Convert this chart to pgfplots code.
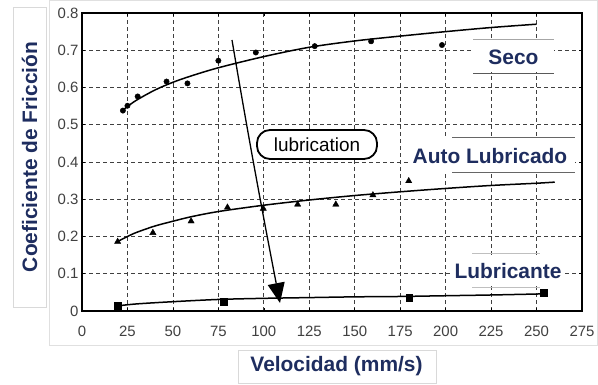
\documentclass[border=0pt]{standalone}
\usepackage{pgfplots}
\pgfplotsset{compat=1.18}
\usepackage{fontspec}
\setmainfont{Liberation Sans}
\usetikzlibrary{arrows.meta}
\definecolor{navy}{RGB}{30,45,95}
\begin{document}
\begin{tikzpicture}
\useasboundingbox (0bp,0bp) rectangle (598bp,385bp);
\begin{axis}[at={(82bp,74bp)}, anchor=south west, scale only axis,
  width=500bp, height=298bp,
  xmin=0, xmax=275, ymin=0, ymax=0.8,
  xtick={0,25,50,75,100,125,150,175,200,225,250,275},
  ytick={0,0.1,0.2,0.3,0.4,0.5,0.6,0.7,0.8},
  /pgf/number format/assume math mode=true,
  /pgf/number format/fixed, /pgf/number format/precision=1,
  tick label style={font=\fontsize{15}{15}\selectfont, text=black!75},
  xticklabel style={yshift=-12bp},
  grid=major,
  major grid style={black!75, dash pattern=on 4bp off 3bp, line width=0.7bp},
  tick style={black, line width=0.6bp}, major tick length=3bp,
  axis line style={line width=1.3bp},
  clip=false]
% Seco
\addplot[black, line width=1.5bp, smooth] coordinates {
(22,0.537) (25,0.549) (30,0.566) (40,0.593) (50,0.614) (60,0.631) (75,0.653)
(100,0.683) (125,0.708) (150,0.725) (175,0.738) (200,0.750) (225,0.761) (250,0.770)};
\addplot[only marks, mark=*, mark size=2.7bp, black] coordinates {
(22.5,0.538) (25,0.551) (30.6,0.576) (46.5,0.616) (58,0.611) (75,0.672)
(95.6,0.694) (128,0.711) (159,0.724) (198,0.714)};
% Auto lubricado
\addplot[black, line width=1.5bp, smooth] coordinates {
(19,0.185) (25,0.200) (30,0.211) (40,0.228) (50,0.241) (60,0.253) (75,0.267)
(100,0.284) (125,0.298) (150,0.310) (175,0.320) (200,0.329) (225,0.337) (250,0.343) (260,0.346)};
\addplot[only marks, mark=triangle*, mark size=3.6bp, black] coordinates {
(19.6,0.186) (39,0.21) (60,0.241) (80,0.278) (99.7,0.275) (118.6,0.286)
(139.6,0.286) (160,0.311) (179.7,0.349)};
% Lubricante
\addplot[black, line width=1.5bp, smooth] coordinates {
(20,0.014) (30,0.019) (50,0.025) (75,0.031) (100,0.034) (125,0.036) (150,0.038)
(175,0.039) (200,0.041) (225,0.043) (254,0.046)};
\addplot[only marks, mark=square*, mark size=3.4bp, black] coordinates {
(19.6,0.014) (78,0.025) (180,0.035) (254,0.049)};
\end{axis}
\begin{scope}[x=1bp,y=1bp]
% light frames
\draw[black!12, line width=0.8bp] (49.5,40) rectangle (597.5,384.6);
\draw[black!15, line width=0.8bp] (13,378) rectangle (46,78);
\draw[black!15, line width=0.8bp] (238,35) rectangle (436,2);
% arrow
\draw[line width=1.3bp, -{Triangle[length=20bp,width=17bp]}] (232,345) .. controls (248,250) and (262,175) .. (280,82);
% lubrication box
\node[draw=black, line width=1.8bp, fill=white, rounded corners=13bp, minimum width=120bp, minimum height=29bp, inner sep=0pt, font=\fontsize{19}{19}\selectfont] at (317,240.5) {lubrication};
% Seco label
\fill[white] (473,345) rectangle (554,313);
\draw[black!35, line width=0.8bp] (473,346) -- (554,346);
\draw[black!65, line width=0.8bp] (473,312) -- (554,312);
\node[font=\fontsize{21}{21}\selectfont\bfseries, text=navy] at (513.5,328) {Seco};
% Auto Lubricado
\fill[white] (410,247) rectangle (575,214);
\draw[black!60, line width=0.8bp] (452,248) -- (575,248);
\draw[black!60, line width=0.8bp] (452,213) -- (575,213);
\node[font=\fontsize{21}{21}\selectfont\bfseries, text=navy] at (490,229) {Auto Lubricado};
% Lubricante
\fill[white] (452,130) rectangle (564,100);
\draw[black!25, line width=0.8bp] (472,132) -- (540,132);
\draw[black!25, line width=0.8bp] (472,98) -- (540,98);
\node[font=\fontsize{21}{21}\selectfont\bfseries, text=navy] at (508,114) {Lubricante};
% axis labels
\node[rotate=90, font=\fontsize{21}{21}\selectfont\bfseries, text=navy] at (29.5,228) {Coeficiente de Fricción};
\node[font=\fontsize{21}{21}\selectfont\bfseries, text=navy] at (336.5,18.5) {Velocidad (mm/s)};
\end{scope}
\end{tikzpicture}
\end{document}
